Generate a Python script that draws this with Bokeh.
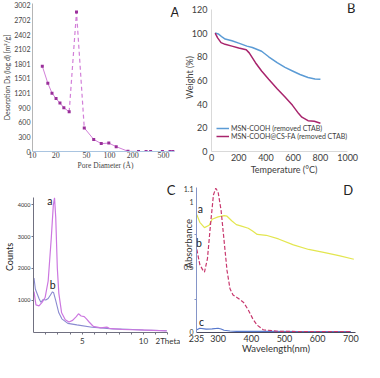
from bokeh.plotting import figure
from bokeh.layouts import column, row
from bokeh.models import Range1d, FixedTicker, Label, Legend, LegendItem, BasicTickFormatter, Title
from bokeh.embed import file_html
from bokeh.resources import INLINE

SANS = "Lato"
SERIF = "Liberation Serif"

# ---------------- Panel A: pore size distribution ----------------
pore_diam = [13.4, 15.8, 17.9, 20.2, 22.7, 25.5, 29.9, 37.2, 46.9, 62.2, 77.9, 97.6,
             121.7, 173, 237, 297, 340, 484, 607, 660]
desorp_ds = [1753, 1404, 1199, 1087, 994, 900, 815, 2866, 485, 248, 162, 173,
             99, 5, 0, 0, 0, 0, 0, 0]
a_yticks = [0, 300, 600, 900, 1201, 1501, 1801, 2102, 2402, 2702, 3002]
a_xticks = [10, 20, 50, 100, 200, 500]

# ---------------- Panel B: TGA ----------------
temp_b1 = [27, 50, 80, 100, 150, 200, 260, 300, 368, 420, 482, 540, 595, 650, 709, 760, 800]
weight_b1 = [100, 99.3, 96.5, 95, 93.5, 91.5, 89, 87.8, 84.7, 80, 75, 71, 68, 65, 62.5, 61.3, 61]
temp_b2 = [27, 45, 70, 100, 150, 200, 255, 277, 323, 368, 420, 482, 540, 595, 640, 664, 709, 755, 800]
weight_b2 = [100, 96, 92, 90.5, 89, 87.5, 86, 83.3, 75, 68, 61, 53, 46, 39, 32, 29, 26, 25.5, 23.8]
b_name1 = "MSN-COOH (removed CTAB)"
b_name2 = "MSN-COOH@CS-FA (removed CTAB)"
b_xticks = [0, 200, 400, 600, 800, 1000]
b_yticks = [0, 20, 40, 60, 80, 100, 120]

# ---------------- Panel C: XRD ----------------
theta_a = [1.04, 1.2, 1.45, 1.7, 1.95, 2.2, 2.45, 2.62, 2.72, 2.82, 2.95, 3.07, 3.3, 3.6, 3.9,
           4.2, 4.5, 4.68, 4.9, 5.15, 5.35, 5.55, 5.9, 6.5, 7.0, 7.2, 8.2, 9.0, 10.25, 11.9]
counts_a = [1267, 850, 820, 930, 1080, 1600, 2930, 3980, 4220, 3600, 2000, 1220, 600, 380, 310,
            360, 480, 570, 500, 480, 400, 310, 170, 125, 150, 110, 80, 70, 55, 30]
theta_b = [1.04, 1.15, 1.3, 1.45, 1.6, 1.8, 2.0, 2.2, 2.4, 2.55, 2.65, 2.82, 3.07, 3.32, 3.81,
           4.55, 5.79, 7.5, 8.7, 10.0, 11.9]
counts_b = [1695, 1350, 1200, 1050, 930, 1020, 1000, 1050, 1170, 1260, 1230, 980, 600, 410, 266,
            219, 143, 95, 80, 60, 35]
c_yticks = [1000, 2000, 3000, 4000]
c_xticks = [5, 10, 12]
c_xminor = [2, 3, 4, 6, 7, 8, 9, 11]

# ---------------- Panel D: UV-Vis ----------------
wl_a = [236, 245, 259, 273, 282, 300, 318, 327, 341, 355, 368, 391, 405, 418, 445, 482, 527,
        573, 618, 664, 709]
abs_a = [0.90, 0.841, 0.80, 0.818, 0.865, 0.883, 0.893, 0.888, 0.853, 0.823, 0.814, 0.795,
         0.772, 0.748, 0.741, 0.713, 0.667, 0.632, 0.609, 0.585, 0.557]
wl_b = [236, 245, 255, 259, 268, 277, 286, 293, 300, 309, 318, 327, 336, 345, 359, 377, 391,
        405, 418, 436, 482, 573, 700]
abs_b = [0.632, 0.516, 0.469, 0.457, 0.562, 0.818, 1.051, 1.103, 1.075, 0.935, 0.702, 0.469,
         0.329, 0.282, 0.259, 0.224, 0.166, 0.096, 0.049, 0.014, 0.002, 0.0, 0.0]
wl_c = [236, 245, 264, 282, 300, 309, 318, 336, 355, 391, 450, 550, 700]
abs_c = [0.014, 0.026, 0.019, 0.021, 0.026, 0.02, 0.01, 0.004, 0.002, 0.002, 0.002, 0.001, 0.001]
d_xticks = [235, 300, 400, 500, 600, 700]
d_yticks = [0, 0.5, 1, 1.1]


def base_fig(w, h, xr, yr, borders, x_axis_type="linear"):
    l, r, t, b = borders
    p = figure(width=w, height=h, x_range=xr, y_range=yr, x_axis_type=x_axis_type,
               output_backend="svg", toolbar_location=None,
               min_border_left=l, min_border_right=r, min_border_top=t, min_border_bottom=b)
    p.grid.visible = False
    p.outline_line_color = None
    p.background_fill_color = "white"
    p.border_fill_color = "white"
    for ax in (p.xaxis, p.yaxis):
        ax.major_tick_line_color = None
        ax.minor_tick_line_color = None
        ax.major_tick_out = 0
        ax.major_tick_in = 0
        ax.minor_tick_out = 0
        ax.minor_tick_in = 0
        ax.axis_label_text_font_style = "normal"
        ax.axis_label_text_font = SANS
    return p


def lab(p, x, y, text, size, color="#222222"):
    p.add_layout(Label(x=x, y=y, text=text, text_font_size=f"{size}px", text_color=color,
                       text_font=SANS, text_align="center", text_baseline="middle"))


W = 180
HT = 178
HB = 180

# ===== A =====
pa = base_fig(W, HT, Range1d(10, 782), Range1d(0, 3040), (24, 2, 3, 27), x_axis_type="log")
pa.line(pore_diam[:7], desorp_ds[:7], line_color="#d27fd8", line_width=1)
pa.line(pore_diam[6:9], desorp_ds[6:9], line_color="#d27fd8", line_width=1.2, line_dash="4 3")
pa.line(pore_diam[8:], desorp_ds[8:], line_color="#d27fd8", line_width=1)
pa.scatter(pore_diam, desorp_ds, marker="square", size=3, fill_color="#9a2f9a", line_color=None)
pa.xaxis.ticker = FixedTicker(ticks=a_xticks)
pa.xaxis.formatter = BasicTickFormatter()
pa.xaxis.bounds = (10, 690)
pa.xaxis.axis_line_color = "#a9c4e0"
pa.xaxis.major_label_text_font = SERIF
pa.xaxis.major_label_text_font_size = "8px"
pa.xaxis.major_label_text_color = "#444444"
pa.xaxis.major_label_standoff = 0
pa.xaxis.axis_label = "Pore Diameter (\u00c5)"
pa.xaxis.axis_label_text_font = SERIF
pa.xaxis.axis_label_text_font_size = "7.5px"
pa.xaxis.axis_label_text_color = "#444444"
pa.xaxis.axis_label_standoff = 0
pa.yaxis.ticker = FixedTicker(ticks=a_yticks)
pa.yaxis.axis_line_color = "#b5b5b5"
pa.yaxis.major_label_text_font = SANS
pa.yaxis.major_label_text_font_size = "7px"
pa.yaxis.major_label_text_color = "#444444"
pa.yaxis.major_label_standoff = 2
pa.yaxis.axis_label = "Desorption Ds (log d) [m\u00b2/g]"
pa.yaxis.axis_label_text_font_size = "7px"
pa.yaxis.axis_label_text_color = "#444444"
pa.yaxis.axis_label_standoff = 0
lab(pa, 700, 2872, "A", 13)

# ===== B =====
pb = base_fig(W, HT, Range1d(0, 1065), Range1d(0, 125), (28, 4, 2, 27))
r1 = pb.line(temp_b1, weight_b1, line_color="#5b9bd5", line_width=1.5)
r2 = pb.line(temp_b2, weight_b2, line_color="#a8246c", line_width=1.5)
pb.xaxis.ticker = FixedTicker(ticks=b_xticks)
pb.yaxis.ticker = FixedTicker(ticks=b_yticks)
pb.xaxis.bounds = (0, 1000)
pb.yaxis.bounds = (0, 120)
for ax in (pb.xaxis, pb.yaxis):
    ax.axis_line_color = "#d9d9d9"
    ax.major_label_text_font = SANS
    ax.major_label_text_font_size = "9px"
    ax.major_label_text_color = "#404040"
    ax.axis_label_text_font_size = "9px"
    ax.axis_label_text_color = "#404040"
pb.xaxis.major_label_standoff = 2
pb.yaxis.major_label_standoff = 4
pb.xaxis.axis_label = "Temperature (\u00b0C)"
pb.xaxis.axis_label_standoff = 0
pb.yaxis.axis_label = "Weight (%)"
pb.yaxis.axis_label_standoff = -6
legend = Legend(items=[LegendItem(label=b_name1, renderers=[r1]),
                       LegendItem(label=b_name2, renderers=[r2])],
                location=(5, 11), border_line_color=None, background_fill_alpha=0,
                label_text_font=SANS, label_text_font_size="7px", label_text_color="#404040",
                label_height=8, glyph_height=8, glyph_width=13, spacing=0,
                padding=0, margin=0, label_standoff=2)
pb.add_layout(legend)
lab(pb, 1027, 121, "B", 13)

# ===== C =====
pc = base_fig(W, HB, Range1d(1.0, 12.7), Range1d(-20, 4731), (25, 4, 3, 26))
pc.line(theta_b, counts_b, line_color="#8a8ad0", line_width=1.1)
pc.line(theta_a, counts_a, line_color="#cc77e0", line_width=1.2)
pc.xaxis.ticker = FixedTicker(ticks=c_xticks, minor_ticks=c_xminor)
pc.xaxis.major_label_overrides = {12: "2Theta"}
pc.xaxis.bounds = (1.0, 12.0)
pc.yaxis.ticker = FixedTicker(ticks=c_yticks)
pc.yaxis.bounds = (-20, 4220)
for ax in (pc.xaxis, pc.yaxis):
    ax.axis_line_color = "#707080"
    ax.major_tick_line_color = "#707080"
    ax.major_tick_out = 2
    ax.major_label_text_font = SANS
    ax.major_label_text_color = "#333333"
pc.xaxis.minor_tick_line_color = "#707080"
pc.xaxis.minor_tick_out = 2
pc.xaxis.major_label_text_font_size = "8px"
pc.xaxis.major_label_standoff = 1
pc.yaxis.major_label_text_font_size = "5.5px"
pc.yaxis.major_label_standoff = 1
pc.yaxis.axis_label = "Counts"
pc.yaxis.axis_label_text_font_size = "9px"
pc.yaxis.axis_label_text_color = "#222222"
pc.yaxis.axis_label_standoff = 0
lab(pc, 2.33, 4116, "a", 10.5)
lab(pc, 2.58, 1465, "b", 10.5)
lab(pc, 12.25, 4478, "C", 13)

# ===== D =====
pd_ = base_fig(W, HB, Range1d(235, 714), Range1d(-0.007, 1.155), (10, 5, 1, 26))
pd_.line(wl_c, abs_c, line_color="#5577cc", line_width=1.1)
pd_.line(wl_a, abs_a, line_color="#e3e64f", line_width=1.2)
pd_.line(wl_b, abs_b, line_color="#c8386e", line_width=1.2, line_dash="4 2")
pd_.xaxis.ticker = FixedTicker(ticks=d_xticks)
pd_.yaxis.ticker = FixedTicker(ticks=d_yticks, minor_ticks=[0.25, 0.75])
pd_.yaxis.major_label_overrides = {0: "0", 1: "1"}
pd_.yaxis.bounds = (-0.007, 1.105)
pd_.xaxis.axis_line_color = "#4a4a60"
pd_.yaxis.axis_line_color = "#8595c8"
pd_.yaxis.minor_tick_line_color = "#8595c8"
pd_.yaxis.minor_tick_out = 2
for ax in (pd_.xaxis, pd_.yaxis):
    ax.major_label_text_font = SANS
    ax.major_label_text_color = "#333333"
    ax.axis_label_text_color = "#333333"
    ax.axis_label_text_font_size = "9.5px"
pd_.xaxis.major_label_text_font_size = "9px"
pd_.xaxis.major_label_standoff = 2
pd_.yaxis.major_label_text_font_size = "7px"
pd_.yaxis.major_label_standoff = 1
pd_.xaxis.axis_label = "Wavelength(nm)"
pd_.xaxis.axis_label_standoff = -2
pd_.add_layout(Title(text="Absorbance", align="left", offset=64, standoff=-27,
                     text_font=SANS, text_font_style="normal", text_font_size="9.5px",
                     text_color="#333333"), "left")
lab(pd_, 247, 0.94, "a", 10.5)
lab(pd_, 242, 0.685, "b", 10.5)
lab(pd_, 250, 0.072, "c", 10.5)
lab(pd_, 692, 1.088, "D", 13)

layout = column(row(pa, pb), row(pc, pd_))
open("out.html", "w").write(file_html(layout, INLINE))
